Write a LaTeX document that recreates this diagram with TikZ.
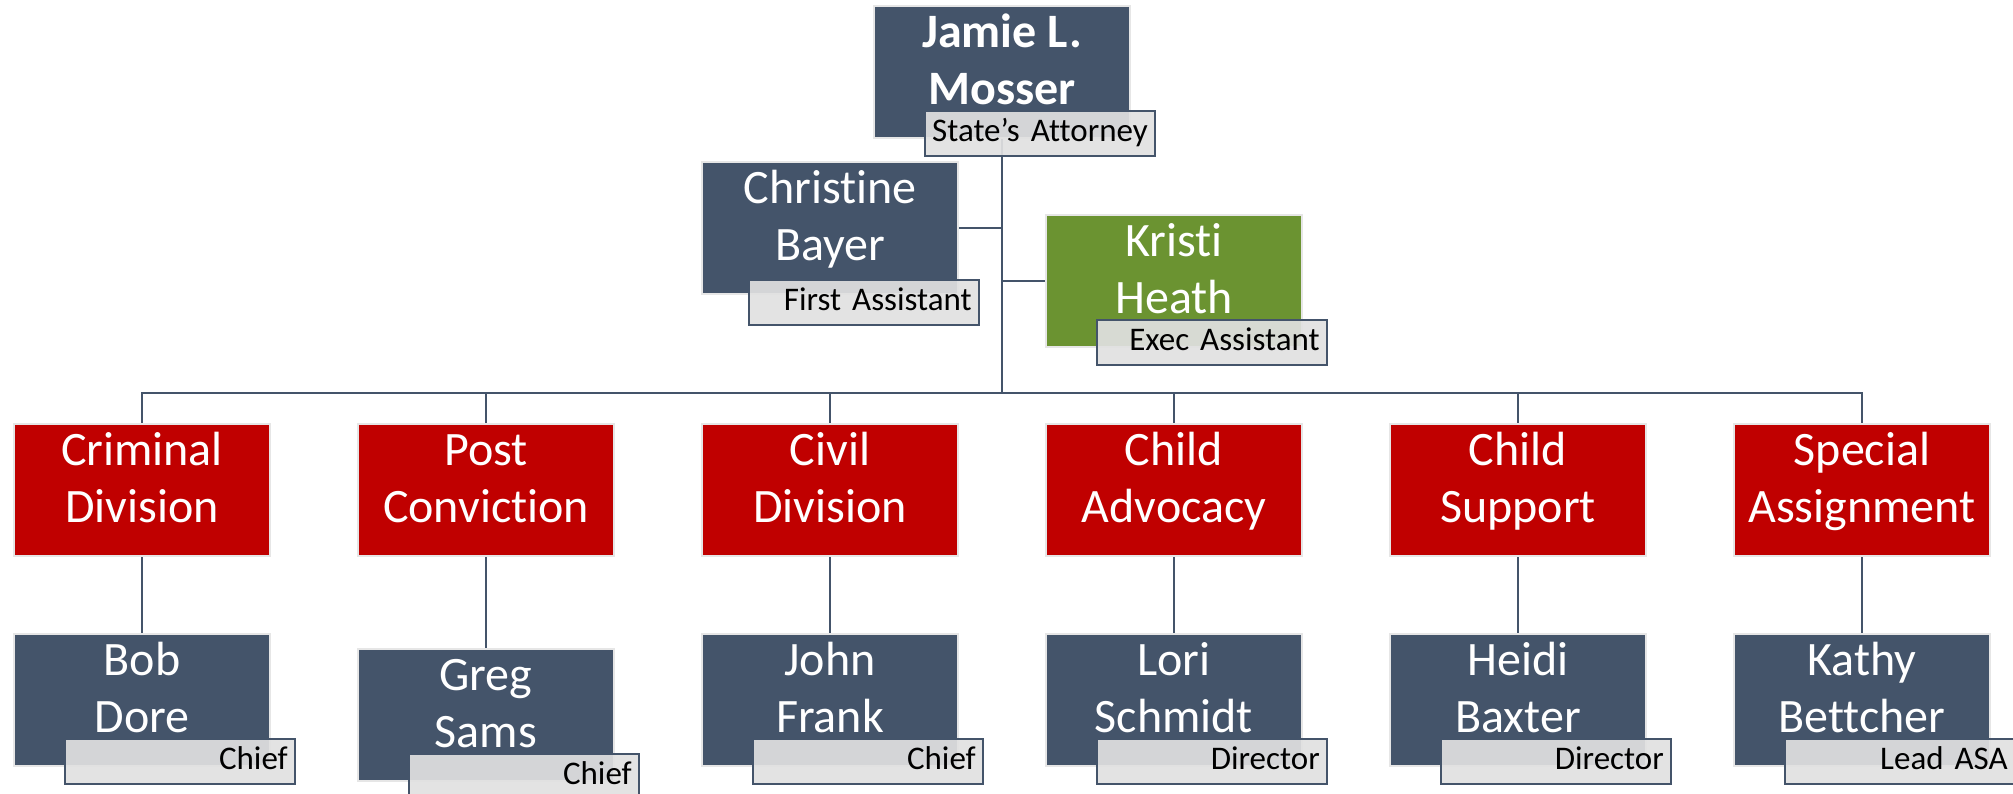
\documentclass[tikz,border=0pt]{standalone}
\usepackage{fontspec}
\setmainfont{Carlito}[Ligatures={NoCommon}]
\usetikzlibrary{calc}
\pgfdeclarelayer{background}
\pgfsetlayers{background,main}

\definecolor{slate}{HTML}{44546A}
\definecolor{deepred}{HTML}{C00000}
\definecolor{olive}{HTML}{6B9331}
\definecolor{boxedge}{HTML}{E6E6E6}
\definecolor{tagfill}{HTML}{E1E1E1}

\tikzset{
  unitbox/.style={rectangle, minimum width=256pt, minimum height=132pt,
    draw=boxedge, line width=2.5pt, inner sep=0pt},
  person/.style={unitbox, fill=slate},
  division/.style={unitbox, fill=deepred},
  aide/.style={unitbox, fill=olive},
  % base anchor of a two-line text sits on its second baseline
  nametext/.style={anchor=base, text=white, align=center, inner sep=0pt,
    font=\fontsize{48}{57}\selectfont},
  roletag/.style={rectangle, anchor=north west, minimum width=230pt,
    minimum height=45pt, text width=216pt, align=right, inner xsep=7pt,
    inner ysep=0pt, text height=23pt, text depth=7pt,
    fill=tagfill, fill opacity=0.92, text opacity=1, draw opacity=1,
    draw=slate, line width=2pt, font=\fontsize{33}{36}\selectfont},
  link/.style={draw=slate, line width=2.5pt}
}

\begin{document}
\begin{tikzpicture}[x=1pt,y=-1pt]
\useasboundingbox (0,0) rectangle (2013,794);

% top office
\node[person] (jamie) at (1002,72) {};
\node[nametext, font=\fontsize{48}{57}\selectfont\bfseries] (jamieT)
  at ($(jamie.north)+(0,100)$) {Jamie L.\\Mosser};
\node[person] (chris) at (830,228) {};
\node[nametext] (chrisT) at ($(chris.north)+(0,100)$) {Christine\\Bayer};
\node[aide] (kristi) at (1174,281) {};
\node[nametext] (kristiT) at ($(kristi.north)+(0,100)$) {Kristi\\Heath};

% divisions
\node[division] (crim)  at (142,490)  {};
\node[division] (post)  at (486,490)  {};
\node[division] (civil) at (830,490)  {};
\node[division] (adv)   at (1174,490) {};
\node[division] (supp)  at (1518,490) {};
\node[division] (spec)  at (1862,490) {};
\node[nametext] (crimT)  at ($(crim.north)+(0,100)$)  {Criminal\\Division};
\node[nametext] (postT)  at ($(post.north)+(0,100)$)  {Post\\Conviction};
\node[nametext] (civilT) at ($(civil.north)+(0,100)$) {Civil\\Division};
\node[nametext] (advT)   at ($(adv.north)+(0,100)$)   {Child\\Advocacy};
\node[nametext] (suppT)  at ($(supp.north)+(0,100)$)  {Child\\Support};
\node[nametext] (specT)  at ($(spec.north)+(0,100)$)  {Special\\Assignment};

% division heads
\node[person] (bob)   at (142,700)  {};
\node[person] (greg)  at (486,715)  {};
\node[person] (john)  at (830,700)  {};
\node[person] (lori)  at (1174,700) {};
\node[person] (heidi) at (1518,700) {};
\node[person] (kathy) at (1862,700) {};
\node[nametext] (bobT)   at ($(bob.north)+(0,100)$)   {Bob\\Dore};
\node[nametext] (gregT)  at ($(greg.north)+(0,100)$)  {Greg\\Sams};
\node[nametext] (johnT)  at ($(john.north)+(0,100)$)  {John\\Frank};
\node[nametext] (loriT)  at ($(lori.north)+(0,100)$)  {Lori\\Schmidt};
\node[nametext] (heidiT) at ($(heidi.north)+(0,100)$) {Heidi\\Baxter};
\node[nametext] (kathyT) at ($(kathy.north)+(0,100)$) {Kathy\\Bettcher};

% connectors
\coordinate (bus) at (1002,393);
\begin{pgfonlayer}{background}
  \draw[link] (jamie.south) -- (bus);
  \draw[link] (chris.east) -- (chris.east -| bus);
  \draw[link] (kristi.west) -- (kristi.west -| bus);
  \foreach \d in {crim,post,civil,adv,supp,spec}
    \draw[link] (bus) -| (\d.north);
  \draw[link] (crim.south)  -- (bob.north);
  \draw[link] (post.south)  -- (greg.north);
  \draw[link] (civil.south) -- (john.north);
  \draw[link] (adv.south)   -- (lori.north);
  \draw[link] (supp.south)  -- (heidi.north);
  \draw[link] (spec.south)  -- (kathy.north);
\end{pgfonlayer}

% role tags
\node[roletag] (jamieR) at ($(jamie.south west)+(51,-29)$) {State’s Attorney};
\node[roletag] (chrisR) at ($(chris.south west)+(47,-16)$) {First Assistant};
\node[roletag] (kristiR) at ($(kristi.south west)+(51,-29)$) {Exec Assistant};
\node[roletag] (bobR)   at ($(bob.south west)+(51,-29)$)   {Chief};
\node[roletag] (gregR)  at ($(greg.south west)+(51,-29)$)  {Chief};
\node[roletag] (johnR)  at ($(john.south west)+(51,-29)$)  {Chief};
\node[roletag] (loriR)  at ($(lori.south west)+(51,-29)$)  {Director};
\node[roletag] (heidiR) at ($(heidi.south west)+(51,-29)$) {Director};
\node[roletag] (kathyR) at ($(kathy.south west)+(51,-29)$) {Lead ASA};
\end{tikzpicture}
\end{document}
